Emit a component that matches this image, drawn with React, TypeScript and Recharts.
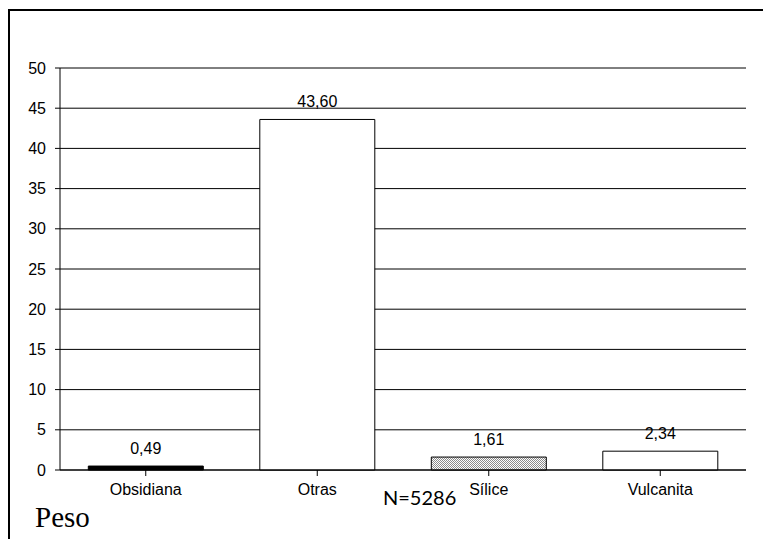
import React from "react";
import { BarChart, Bar, XAxis, YAxis, CartesianGrid, LabelList, Cell } from "recharts";

const categories = ["Obsidiana", "Otras", "Sílice", "Vulcanita"];
const peso = [0.49, 43.6, 1.61, 2.34];
const yTicks = [0, 5, 10, 15, 20, 25, 30, 35, 40, 45, 50];

const fills = ["#000000", "#ffffff", "url(#hatch)", "#ffffff"];

const data = categories.map((name, i) => ({ name, peso: peso[i] }));

const FONT = "Arial, 'Liberation Sans', sans-serif";

export default function App() {
  return (
    <div style={{ position: "fixed", left: 0, top: 0, width: 763, height: 539, overflow: "hidden", background: "#fff" }}>
      <div
        style={{
          position: "absolute",
          left: 8,
          top: 9,
          width: 800,
          height: 600,
          border: "2px solid #000",
          boxSizing: "border-box",
        }}
      />
      <div style={{ position: "absolute", left: 0, top: 0 }}>
        <BarChart
          width={763}
          height={539}
          data={data}
          margin={{ top: 68, right: 17, left: 0, bottom: 39 }}
          barCategoryGap="16.5%"
        >
          <defs>
            <pattern id="hatch" width="2" height="2" patternUnits="userSpaceOnUse">
              <rect width="2" height="2" fill="#ffffff" />
              <rect x="0" y="0" width="1" height="1" fill="#8c8c8c" />
              <rect x="1" y="1" width="1" height="1" fill="#8c8c8c" />
            </pattern>
          </defs>
          <CartesianGrid vertical={false} stroke="#000" strokeWidth={1} />
          <XAxis
            dataKey="name"
            height={30}
            axisLine={{ stroke: "#000" }}
            tickLine={{ stroke: "#000" }}
            tickSize={6}
            tickMargin={8}
            interval={0}
            tick={{ fontSize: 16, fill: "#000", fontFamily: FONT }}
          />
          <XAxis
            xAxisId="top"
            orientation="top"
            dataKey="name"
            height={0}
            axisLine={{ stroke: "#8a8a8a" }}
            tick={false}
            tickLine={false}
          />
          <YAxis
            width={60}
            domain={[0, 50]}
            ticks={yTicks}
            interval={0}
            axisLine={{ stroke: "#000" }}
            tickLine={{ stroke: "#000" }}
            tickSize={5}
            tickMargin={9}
            tick={{ fontSize: 16, fill: "#000", fontFamily: FONT }}
          />
          <YAxis
            yAxisId="right"
            orientation="right"
            width={0}
            domain={[0, 50]}
            axisLine={{ stroke: "#8a8a8a" }}
            tick={false}
            tickLine={false}
          />
          <Bar dataKey="peso" stroke="#000" strokeWidth={1} isAnimationActive={false}>
            {data.map((_, i) => (
              <Cell key={i} fill={fills[i]} />
            ))}
            <LabelList
              dataKey="peso"
              position="top"
              offset={12}
              formatter={(v: number) => v.toFixed(2).replace(".", ",")}
              style={{ fontSize: 16, fill: "#000", fontFamily: FONT }}
            />
          </Bar>
        </BarChart>
      </div>
      <div
        style={{
          position: "absolute",
          left: 35,
          top: 500,
          fontFamily: "'Liberation Serif', 'Times New Roman', serif",
          fontSize: 29,
          color: "#000",
          lineHeight: "34px",
        }}
      >
        Peso
      </div>
      <div
        style={{
          position: "absolute",
          left: 383,
          top: 485,
          fontFamily: "Lato, sans-serif",
          fontSize: 20,
          color: "#000",
          lineHeight: "24px",
        }}
      >
        N=5286
      </div>
    </div>
  );
}
